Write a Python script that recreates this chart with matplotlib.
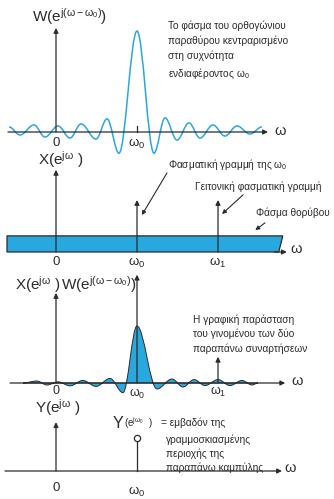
import numpy as np
import matplotlib
matplotlib.use("Agg")
import matplotlib.pyplot as plt
from matplotlib.path import Path
from matplotlib.patches import PathPatch, Polygon

plt.rcParams['font.family'] = ['Liberation Sans', 'DejaVu Sans']
plt.rcParams['mathtext.fontset'] = 'custom'
plt.rcParams['mathtext.rm'] = 'Liberation Sans'
plt.rcParams['mathtext.it'] = 'Liberation Sans'

# ---- data (frequency in units of omega0, amplitudes normalised per panel) ----
tick_pos = [0.0, 1.0, 2.0]
tick_lbl = ['0', r'$\mathregular{\omega_0}$', r'$\mathregular{\omega_1}$']

# window spectrum W(e^{j(w-w0)}): extrema of the lobes
w_om = [-0.58, -0.444, -0.272, -0.136, 0.025, 0.173, 0.309, 0.494, 0.630, 0.778,
        1.0, 1.21, 1.346, 1.494, 1.642, 1.778, 1.938, 2.086, 2.235, 2.395, 2.543]
w_amp = [0.05, -0.03, 0.07, -0.05, 0.06, -0.06, 0.08, -0.07, 0.13, -0.21,
         1.0, -0.21, 0.14, -0.08, 0.09, -0.06, 0.07, -0.04, 0.06, -0.02, 0.05]

# input spectrum X(e^{jw})
x_lines = [1.0, 2.0]
x_line_amp = [1.0, 1.0]
noise_level = 0.31

# product X * W
p_om = [-0.407, -0.235, -0.111, 0.025, 0.173, 0.333, 0.494, 0.667, 0.827, 1.0,
        1.247, 1.432, 1.568, 1.704, 1.840, 2.0, 2.148, 2.296, 2.420, 2.494]
p_amp = [0.0, 0.035, -0.035, 0.02, -0.05, 0.045, -0.06, 0.08, -0.17, 1.0,
         -0.105, 0.07, -0.07, 0.06, -0.045, 0.06, -0.045, 0.045, -0.035, 0.0]
p_lines = [1.0, 2.0]
p_line_amp = [1.9, 0.46]

# output Y(e^{jw0})
y_om = 1.0
y_amp = 1.0

BLUE = '#29a8e0'
DARK = '#2b2b2b'
W_PX, H_PX = 334, 499
ORIG_PX, UNIT_PX = 56, 81

fig = plt.figure(figsize=(W_PX / 100, H_PX / 100), dpi=100)


def panel(base_px, scale_px):
    ax = fig.add_axes([0, 0, 1, 1])
    ax.set_xlim(-ORIG_PX / UNIT_PX, (W_PX - ORIG_PX) / UNIT_PX)
    ax.set_ylim((base_px - H_PX) / scale_px, base_px / scale_px)
    ax.axis('off')
    ax.patch.set_alpha(0)
    return ax


def arrow(ax, x0, y0, x1, y1, lw=0.9, ms=7):
    ax.annotate('', xy=(x1, y1), xytext=(x0, y0),
                arrowprops=dict(arrowstyle='-|>', color=DARK, lw=lw,
                                mutation_scale=ms, shrinkA=0, shrinkB=0))


def smooth(xs, ys):
    verts = [(xs[0], ys[0])]
    codes = [Path.MOVETO]
    for i in range(len(xs) - 1):
        d = (xs[i + 1] - xs[i]) * 0.36
        verts += [(xs[i] + d, ys[i]), (xs[i + 1] - d, ys[i + 1]), (xs[i + 1], ys[i + 1])]
        codes += [Path.CURVE4] * 3
    return verts, codes


def ticklabels(ax, dys, n=3, size=9.5):
    for p, l, dy in list(zip(tick_pos, tick_lbl, dys))[:n]:
        ax.text(p, dy, l, ha='center', va='center', fontsize=size, color=DARK)


# ---- panel 1: window ----
ax1 = panel(132, 101)
arrow(ax1, -0.593, 0, 2.617, 0)
arrow(ax1, 0, 0, 0, 1.03)
ax1.plot([1, 1], [0, 0.06], color=DARK, lw=0.9)
v, c = smooth(w_om, w_amp)
ax1.add_patch(PathPatch(Path(v, c), fill=False, edgecolor=BLUE, lw=1.1))
ax1.text(-0.296, 1.14, r'$\mathregular{W(e^{j(\omega-\omega_0)})}$', fontsize=11,
         ha='left', va='center', color=DARK)
ax1.text(1.383, 1.10, 'Το φάσμα του ορθογώνιου\nπαραθύρου κεντραρισμένο\n'
         'στη συχνότητα\nενδιαφέροντος $\\mathregular{\\omega_0}$',
         fontsize=7.3, ha='left', va='top', linespacing=1.5, color=DARK)
ticklabels(ax1, [-0.11, -0.12], n=2)
ax1.text(2.77, 0.01, 'ω', ha='center', va='center', fontsize=10.5, color=DARK)

# ---- panel 2: input spectrum ----
ax2 = panel(252, 52)
ax2.add_patch(Polygon([(-0.605, 0), (2.75, 0), (2.80, noise_level), (-0.605, noise_level)],
                      closed=True, facecolor=BLUE, edgecolor=DARK, lw=0.9))
arrow(ax2, 2.70, 0, 2.85, 0)
arrow(ax2, 0, 0, 0, 1.58)
for p, a in zip(x_lines, x_line_amp):
    arrow(ax2, p, 0, p, a)
ax2.text(-0.222, 1.77, r'$\mathregular{X(e^{j\omega}\ )}$', fontsize=11,
         ha='left', va='center', color=DARK)
ticklabels(ax2, [-0.19, -0.21, -0.21])
ax2.text(2.96, 0.06, 'ω', ha='center', va='center', fontsize=10.5, color=DARK)
ax2.text(1.38, 1.68, 'Φασματική γραμμή της $\\mathregular{\\omega_0}$', fontsize=7.3,
         ha='left', va='center', color=DARK)
arrow(ax2, 1.37, 1.52, 1.06, 0.71, lw=0.8, ms=6)
ax2.text(1.72, 1.25, 'Γειτονική φασματική γραμμή', fontsize=7.3,
         ha='left', va='center', color=DARK)
arrow(ax2, 2.31, 1.10, 2.05, 0.73, lw=0.8, ms=6)
ax2.text(2.47, 0.75, 'Φάσμα θορύβου', fontsize=7.3, ha='left', va='center', color=DARK)
arrow(ax2, 2.58, 0.56, 2.46, 0.42, lw=0.8, ms=6)

# ---- panel 3: product ----
ax3 = panel(383, 57)
v, c = smooth(p_om, p_amp)
v = v + [(p_om[-1], 0), (p_om[0], 0), (p_om[0], 0)]
c = c + [Path.LINETO, Path.LINETO, Path.CLOSEPOLY]
ax3.add_patch(PathPatch(Path(v, c), facecolor=BLUE, edgecolor=DARK, lw=0.7))
arrow(ax3, -0.568, 0, 2.83, 0)
arrow(ax3, 0, 0, 0, 1.58)
for p, a in zip(p_lines, p_line_amp):
    arrow(ax3, p, 0, p, a)
ax3.text(-0.506, 1.72, r'$\mathregular{X(e^{j\omega}\ )\,W(e^{j(\omega-\omega_0)})}$',
         fontsize=11, ha='left', va='center', color=DARK)
ax3.text(1.69, 1.21, 'Η γραφική παράσταση\nτου γινομένου των δύο\nπαραπάνω συναρτήσεων',
         fontsize=7.3, ha='left', va='top', linespacing=1.5, color=DARK)
ticklabels(ax3, [-0.14, -0.2, -0.16], size=9)
ax3.text(2.98, 0.03, 'ω', ha='center', va='center', fontsize=10.5, color=DARK)

# ---- panel 4: output ----
ax4 = panel(471, 33)
arrow(ax4, -0.63, 0, 2.79, 0)
arrow(ax4, 0, 0, 0, 1.48)
ax4.plot([y_om, y_om], [0, y_amp], color=DARK, lw=0.9)
ax4.plot([y_om], [y_amp], marker='o', ms=4.5, mfc='white', mec=DARK, mew=0.9)
ax4.text(-0.26, 1.93, r'$\mathregular{Y(e^{j\omega}\ )}$', fontsize=11,
         ha='left', va='center', color=DARK)
ax4.text(0.70, 1.45, 'Y', fontsize=11.5, ha='left', va='center', color=DARK)
ax4.text(0.84, 1.45, r'$\mathregular{(e^{j\omega_0}\ \ )}$', fontsize=7,
         ha='left', va='center', color=DARK)
ax4.text(1.30, 1.45, '= εμβαδόν της', fontsize=7.3, ha='left', va='center', color=DARK)
ax4.text(1.36, 1.12, 'γραμμοσκιασμένης\nπεριοχής της\nπαραπάνω καμπύλης',
         fontsize=7.3, ha='left', va='top', linespacing=1.45, color=DARK)
ticklabels(ax4, [-0.52, -0.64], n=2)
ax4.text(2.89, 0.09, 'ω', ha='center', va='center', fontsize=10.5, color=DARK)

fig.savefig('out.png', dpi=100)
